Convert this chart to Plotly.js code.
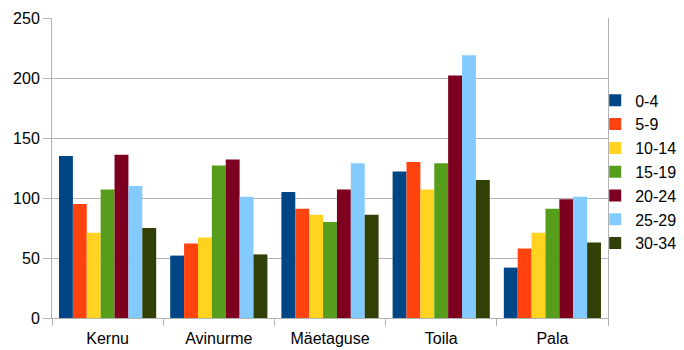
<!DOCTYPE html>
<html>
<head>
<meta charset="utf-8">
<script src="https://cdn.plot.ly/plotly-3.0.1.min.js"></script>
<style>html,body{margin:0;padding:0;background:#fff;}#chart{width:684px;height:350px;}</style>
</head>
<body>
<div id="chart"></div>
<script>
const categories = ["Kernu", "Avinurme", "Mäetaguse", "Toila", "Pala"];
const seriesNames = ["0-4", "5-9", "10-14", "15-19", "20-24", "25-29", "30-34"];
const v0_4   = [135, 52, 105, 122, 42];
const v5_9   = [95, 62, 91, 130, 58];
const v10_14 = [71, 67, 86, 107, 71];
const v15_19 = [107, 127, 80, 129, 91];
const v20_24 = [136, 132, 107, 202, 99];
const v25_29 = [110, 101, 129, 219, 101];
const v30_34 = [75, 53, 86, 115, 63];
const seriesValues = [v0_4, v5_9, v10_14, v15_19, v20_24, v25_29, v30_34];
const colors = ["#004586", "#ff420e", "#ffd320", "#579d1c", "#7e0021", "#83caff", "#314004"];
const yTicks = [0, 50, 100, 150, 200, 250];

const font = "Liberation Sans, Arial, sans-serif";
const traces = seriesNames.map((n, i) => ({
  type: "bar",
  name: n,
  x: categories,
  y: seriesValues[i],
  marker: {color: colors[i], line: {width: 0}},
  hoverinfo: "x+y+name"
}));

const layout = {
  width: 684, height: 350,
  margin: {l: 52, r: 76, t: 18, b: 32, autoexpand: false},
  paper_bgcolor: "#fff", plot_bgcolor: "#fff",
  barmode: "group", bargap: 0.126, bargroupgap: 0,
  font: {family: font, size: 16, color: "#000"},
  showlegend: true,
  legend: {x: 0.977, xanchor: "left", y: 0.487, yanchor: "middle",
           bgcolor: "rgba(0,0,0,0)",
           font: {family: font, size: 16, color: "#000"},
           traceorder: "normal", itemwidth: 30},
  xaxis: {type: "category", showline: true, linecolor: "#b3b3b3", linewidth: 1,
          ticks: "outside", tickson: "boundaries", ticklen: 7, tickcolor: "#b3b3b3",
          ticklabelstandoff: 6,
          showgrid: false, tickfont: {family: font, size: 16, color: "#000"}, fixedrange: true},
  yaxis: {range: [0, 250], tickvals: yTicks, showline: true, linecolor: "#b3b3b3", linewidth: 1,
          mirror: true, ticks: "outside", ticklen: 8, tickcolor: "#b3b3b3",
          showgrid: true, gridcolor: "#b3b3b3", gridwidth: 1, zeroline: false,
          tickfont: {family: font, size: 16, color: "#000"}, fixedrange: true}
};

Plotly.newPlot("chart", traces, layout, {displayModeBar: false, staticPlot: true});
</script>
</body>
</html>
